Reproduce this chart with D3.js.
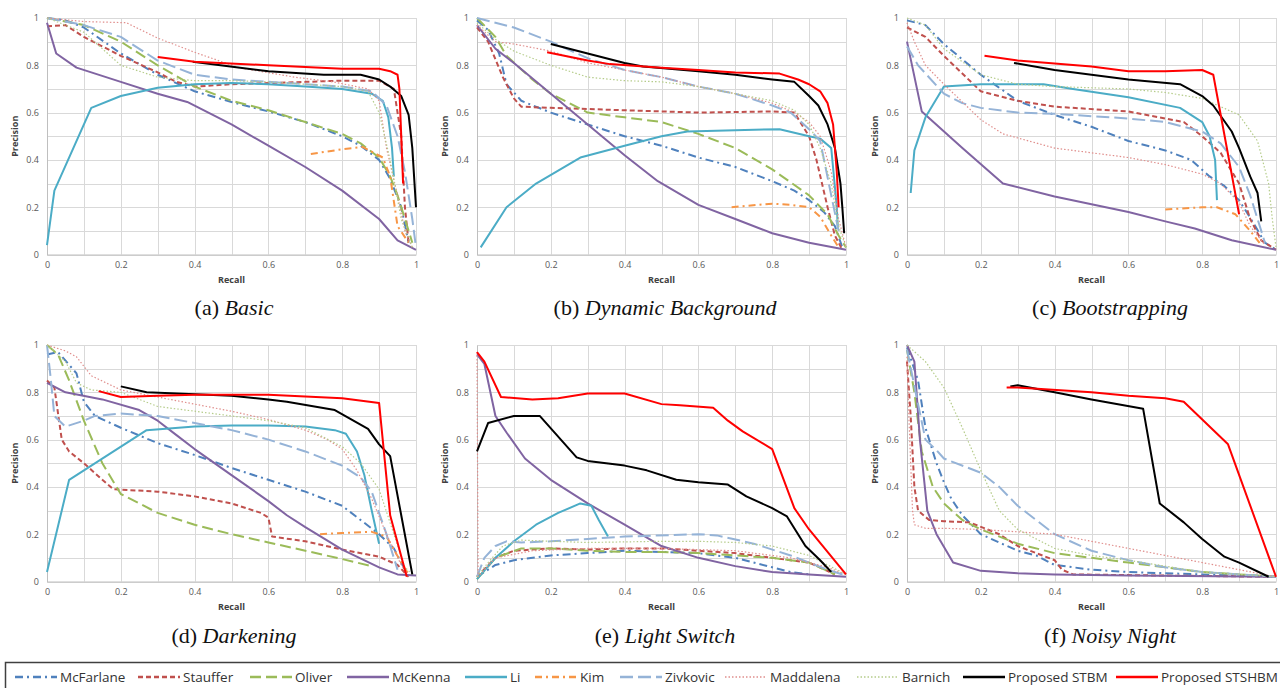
<!DOCTYPE html>
<html>
<head>
<meta charset="utf-8">
<script src="https://cdn.jsdelivr.net/npm/d3@7"></script>
<style>
  body { margin: 0; background: #fff; }
  svg { display: block; }
</style>
</head>
<body>
<svg id="chart" width="1280" height="688"></svg>
<script>
// ---- data ----
var methods = ["McFarlane", "Stauffer", "Oliver", "McKenna", "Li", "Kim", "Zivkovic",
               "Maddalena", "Barnich", "Proposed STBM", "Proposed STSHBM"];
var panelLetters = ["(a)", "(b)", "(c)", "(d)", "(e)", "(f)"];
var panelNames = ["Basic", "Dynamic Background", "Bootstrapping", "Darkening", "Light Switch", "Noisy Night"];
var xTicks = [0, 0.2, 0.4, 0.6, 0.8, 1];
var yTicks = [0, 0.2, 0.4, 0.6, 0.8, 1];

var basic = {
  "McFarlane": [[0,1],[0.05,0.99],[0.1,0.96],[0.2,0.85],[0.3,0.76],[0.4,0.69],[0.5,0.645],[0.6,0.605],[0.7,0.56],[0.8,0.5],[0.85,0.46],[0.9,0.4],[0.93,0.32],[0.96,0.2],[0.98,0.05]],
  "Stauffer": [[0,0.965],[0.05,0.97],[0.1,0.92],[0.2,0.84],[0.3,0.77],[0.35,0.73],[0.4,0.71],[0.5,0.72],[0.6,0.725],[0.7,0.73],[0.8,0.735],[0.9,0.735],[0.94,0.7],[0.96,0.5],[0.97,0.2],[0.98,0.05]],
  "Oliver": [[0,1],[0.1,0.97],[0.2,0.9],[0.3,0.8],[0.4,0.71],[0.5,0.65],[0.6,0.61],[0.7,0.56],[0.8,0.51],[0.85,0.47],[0.9,0.41],[0.93,0.33],[0.95,0.25],[0.97,0.15],[0.99,0.05]],
  "McKenna": [[0,0.98],[0.025,0.85],[0.08,0.79],[0.2,0.73],[0.3,0.68],[0.38,0.645],[0.5,0.55],[0.6,0.46],[0.7,0.37],[0.8,0.27],[0.9,0.15],[0.95,0.06],[1,0.02]],
  "Li": [[0,0.04],[0.02,0.27],[0.12,0.62],[0.2,0.67],[0.3,0.705],[0.4,0.72],[0.5,0.725],[0.6,0.72],[0.7,0.71],[0.8,0.7],[0.88,0.68],[0.91,0.65],[0.925,0.58],[0.935,0.45],[0.94,0.33]],
  "Kim": [[0.715,0.425],[0.8,0.445],[0.855,0.455],[0.91,0.41],[0.93,0.33],[0.95,0.12],[0.98,0.05]],
  "Zivkovic": [[0,1],[0.1,0.97],[0.2,0.92],[0.3,0.82],[0.4,0.76],[0.5,0.74],[0.6,0.73],[0.7,0.72],[0.8,0.71],[0.88,0.69],[0.92,0.63],[0.95,0.5],[0.97,0.35],[0.99,0.15],[1,0.03]],
  "Maddalena": [[0,1],[0.1,0.985],[0.215,0.98],[0.3,0.915],[0.4,0.855],[0.52,0.79],[0.67,0.75],[0.775,0.73],[0.87,0.7],[0.9,0.65],[0.92,0.45],[0.95,0.25],[0.97,0.1],[0.99,0.03]],
  "Barnich": [[0,1],[0.1,0.94],[0.2,0.8],[0.3,0.75],[0.4,0.735],[0.5,0.735],[0.6,0.73],[0.7,0.72],[0.8,0.71],[0.87,0.69],[0.9,0.6],[0.93,0.4],[0.96,0.15],[0.99,0.03]],
  "Proposed STBM": [[0.395,0.815],[0.6,0.775],[0.75,0.76],[0.85,0.76],[0.9,0.74],[0.93,0.71],[0.96,0.67],[0.98,0.59],[0.99,0.45],[1,0.2]],
  "Proposed STSHBM": [[0.3,0.835],[0.4,0.815],[0.6,0.8],[0.8,0.785],[0.9,0.785],[0.93,0.775],[0.95,0.76],[0.955,0.7],[0.96,0.5],[0.965,0.3]]
};

var dynamicBackground = {
  "McFarlane": [[0,0.99],[0.03,0.95],[0.06,0.85],[0.08,0.72],[0.12,0.65],[0.2,0.6],[0.3,0.55],[0.4,0.5],[0.5,0.46],[0.6,0.41],[0.7,0.37],[0.8,0.31],[0.86,0.27],[0.9,0.23],[0.94,0.18],[0.97,0.12],[0.99,0.03]],
  "Stauffer": [[0,0.96],[0.03,0.9],[0.07,0.75],[0.1,0.66],[0.12,0.625],[0.2,0.62],[0.4,0.61],[0.6,0.6],[0.8,0.605],[0.86,0.6],[0.9,0.5],[0.92,0.4],[0.95,0.2],[0.97,0.08],[0.99,0.02]],
  "Oliver": [[0,1],[0.05,0.92],[0.08,0.84],[0.15,0.74],[0.2,0.68],[0.3,0.6],[0.4,0.58],[0.5,0.56],[0.6,0.51],[0.7,0.45],[0.8,0.36],[0.9,0.25],[0.95,0.17],[0.98,0.08],[1,0.03]],
  "McKenna": [[0,0.97],[0.05,0.87],[0.1,0.81],[0.2,0.68],[0.3,0.55],[0.4,0.42],[0.49,0.31],[0.6,0.21],[0.7,0.15],[0.8,0.09],[0.9,0.05],[1,0.02]],
  "Li": [[0.01,0.03],[0.08,0.2],[0.16,0.3],[0.28,0.41],[0.4,0.46],[0.5,0.5],[0.57,0.52],[0.7,0.525],[0.82,0.53],[0.9,0.5],[0.93,0.49],[0.96,0.45],[0.975,0.2],[0.978,0.11]],
  "Kim": [[0.69,0.2],[0.8,0.215],[0.85,0.21],[0.9,0.2],[0.93,0.16],[0.96,0.08],[0.98,0.03]],
  "Zivkovic": [[0,1],[0.1,0.96],[0.2,0.9],[0.3,0.83],[0.4,0.78],[0.5,0.75],[0.6,0.71],[0.7,0.68],[0.8,0.63],[0.85,0.6],[0.9,0.53],[0.93,0.48],[0.96,0.25],[0.98,0.1]],
  "Maddalena": [[0,0.97],[0.05,0.9],[0.1,0.89],[0.2,0.86],[0.3,0.81],[0.4,0.78],[0.5,0.75],[0.6,0.71],[0.7,0.68],[0.8,0.64],[0.86,0.6],[0.9,0.56],[0.93,0.5],[0.96,0.35],[0.98,0.15],[1,0.03]],
  "Barnich": [[0,0.98],[0.05,0.91],[0.1,0.86],[0.2,0.8],[0.3,0.75],[0.4,0.735],[0.5,0.73],[0.6,0.71],[0.7,0.68],[0.8,0.65],[0.86,0.61],[0.9,0.55],[0.93,0.45],[0.96,0.3],[0.98,0.12],[1,0.03]],
  "Proposed STBM": [[0.2,0.89],[0.3,0.85],[0.4,0.81],[0.45,0.795],[0.6,0.775],[0.7,0.76],[0.8,0.74],[0.86,0.73],[0.9,0.67],[0.925,0.63],[0.95,0.55],[0.97,0.45],[0.985,0.3],[0.99,0.2],[0.995,0.09]],
  "Proposed STSHBM": [[0.19,0.855],[0.3,0.82],[0.36,0.805],[0.5,0.79],[0.6,0.78],[0.7,0.77],[0.82,0.765],[0.87,0.74],[0.9,0.72],[0.93,0.69],[0.95,0.64],[0.965,0.55],[0.975,0.35],[0.98,0.2]]
};

var bootstrapping = {
  "McFarlane": [[0,0.99],[0.05,0.97],[0.1,0.89],[0.2,0.76],[0.3,0.65],[0.4,0.59],[0.5,0.54],[0.6,0.48],[0.7,0.44],[0.77,0.4],[0.82,0.33],[0.86,0.29],[0.9,0.23],[0.94,0.13],[0.97,0.05],[1,0.02]],
  "Stauffer": [[0,0.96],[0.05,0.92],[0.1,0.84],[0.2,0.69],[0.3,0.65],[0.4,0.625],[0.6,0.605],[0.75,0.56],[0.8,0.5],[0.85,0.43],[0.9,0.3],[0.93,0.15],[0.96,0.06],[1,0.02]],
  "Oliver": [],
  "McKenna": [[0,0.9],[0.04,0.605],[0.15,0.45],[0.26,0.3],[0.4,0.245],[0.6,0.18],[0.7,0.14],[0.78,0.11],[0.88,0.06],[1,0.02]],
  "Li": [[0.01,0.26],[0.02,0.44],[0.05,0.58],[0.1,0.71],[0.2,0.72],[0.37,0.72],[0.45,0.7],[0.6,0.665],[0.74,0.62],[0.8,0.56],[0.82,0.5],[0.835,0.4],[0.84,0.23]],
  "Kim": [[0.7,0.19],[0.8,0.2],[0.84,0.2],[0.89,0.17],[0.93,0.1],[0.96,0.04]],
  "Zivkovic": [[0,0.88],[0.03,0.8],[0.1,0.68],[0.15,0.64],[0.2,0.62],[0.3,0.6],[0.4,0.595],[0.6,0.575],[0.7,0.56],[0.8,0.52],[0.85,0.47],[0.9,0.37],[0.93,0.25],[0.95,0.15],[0.97,0.05]],
  "Maddalena": [[0,0.98],[0.02,0.9],[0.05,0.8],[0.1,0.72],[0.2,0.57],[0.26,0.51],[0.4,0.45],[0.6,0.41],[0.7,0.38],[0.8,0.34],[0.85,0.3],[0.9,0.22],[0.93,0.12],[0.97,0.04]],
  "Barnich": [[0,1],[0.05,0.97],[0.1,0.87],[0.2,0.76],[0.3,0.72],[0.4,0.71],[0.6,0.7],[0.7,0.685],[0.8,0.66],[0.9,0.59],[0.95,0.48],[0.98,0.3],[0.99,0.15],[1,0.03]],
  "Proposed STBM": [[0.29,0.81],[0.4,0.78],[0.6,0.74],[0.74,0.72],[0.8,0.67],[0.83,0.63],[0.88,0.52],[0.9,0.45],[0.93,0.33],[0.95,0.26],[0.96,0.14]],
  "Proposed STSHBM": [[0.21,0.84],[0.3,0.82],[0.5,0.795],[0.6,0.775],[0.7,0.775],[0.8,0.78],[0.83,0.76],[0.9,0.17]]
};

var darkening = {
  "McFarlane": [[0,0.96],[0.03,0.97],[0.08,0.88],[0.1,0.76],[0.13,0.7],[0.2,0.65],[0.3,0.585],[0.4,0.535],[0.5,0.48],[0.6,0.43],[0.7,0.38],[0.8,0.32],[0.85,0.26],[0.9,0.2],[0.94,0.14],[0.97,0.05]],
  "Stauffer": [[0,0.85],[0.02,0.82],[0.04,0.6],[0.06,0.55],[0.1,0.5],[0.15,0.43],[0.18,0.39],[0.3,0.38],[0.4,0.36],[0.5,0.33],[0.58,0.29],[0.6,0.27],[0.61,0.19],[0.7,0.17],[0.8,0.135],[0.9,0.105],[0.95,0.07],[0.98,0.02]],
  "Oliver": [[0,1],[0.03,0.96],[0.06,0.85],[0.1,0.68],[0.15,0.5],[0.2,0.37],[0.3,0.29],[0.4,0.24],[0.5,0.2],[0.6,0.165],[0.7,0.13],[0.8,0.095],[0.88,0.065]],
  "McKenna": [[0,0.84],[0.05,0.8],[0.15,0.77],[0.25,0.725],[0.3,0.68],[0.35,0.62],[0.4,0.56],[0.5,0.45],[0.6,0.34],[0.65,0.28],[0.7,0.23],[0.8,0.135],[0.9,0.06],[0.95,0.03],[1,0.025]],
  "Li": [[0,0.04],[0.06,0.43],[0.27,0.64],[0.4,0.655],[0.5,0.66],[0.6,0.66],[0.7,0.655],[0.78,0.64],[0.81,0.625],[0.84,0.55],[0.86,0.45],[0.88,0.3],[0.9,0.16]],
  "Kim": [[0.74,0.2],[0.8,0.205],[0.88,0.21],[0.92,0.19],[0.96,0.08],[0.98,0.03]],
  "Zivkovic": [[0,1],[0.01,0.86],[0.02,0.7],[0.05,0.655],[0.1,0.68],[0.13,0.7],[0.2,0.71],[0.3,0.7],[0.4,0.67],[0.5,0.64],[0.6,0.6],[0.7,0.55],[0.8,0.49],[0.85,0.44],[0.88,0.38],[0.92,0.2],[0.95,0.05]],
  "Maddalena": [[0,1],[0.05,0.975],[0.08,0.95],[0.12,0.87],[0.2,0.81],[0.3,0.78],[0.4,0.75],[0.5,0.72],[0.6,0.685],[0.7,0.64],[0.76,0.6],[0.8,0.56],[0.84,0.47],[0.88,0.35],[0.92,0.2],[0.96,0.07],[0.98,0.03]],
  "Barnich": [[0,1],[0.05,0.93],[0.08,0.84],[0.12,0.81],[0.2,0.8],[0.3,0.74],[0.4,0.72],[0.5,0.7],[0.6,0.68],[0.7,0.65],[0.8,0.57],[0.85,0.5],[0.9,0.39],[0.94,0.2],[0.97,0.06],[0.99,0.03]],
  "Proposed STBM": [[0.2,0.825],[0.27,0.8],[0.5,0.785],[0.6,0.77],[0.65,0.76],[0.78,0.725],[0.87,0.645],[0.9,0.58],[0.93,0.53],[0.96,0.28],[0.99,0.03]],
  "Proposed STSHBM": [[0.14,0.805],[0.2,0.78],[0.3,0.785],[0.4,0.79],[0.6,0.79],[0.8,0.775],[0.9,0.755],[0.93,0.28],[0.975,0.02]]
};

var lightSwitch = {
  "McFarlane": [[0,0.02],[0.05,0.07],[0.1,0.09],[0.2,0.11],[0.3,0.12],[0.4,0.13],[0.5,0.125],[0.6,0.12],[0.7,0.1],[0.8,0.06],[0.85,0.04],[0.9,0.03]],
  "Stauffer": [[0,0.02],[0.05,0.1],[0.1,0.13],[0.2,0.14],[0.3,0.135],[0.4,0.14],[0.5,0.14],[0.6,0.13],[0.7,0.12],[0.8,0.1],[0.9,0.08],[0.97,0.03]],
  "Oliver": [[0,0.01],[0.05,0.1],[0.12,0.14],[0.2,0.14],[0.3,0.13],[0.4,0.125],[0.5,0.125],[0.6,0.12],[0.7,0.11],[0.8,0.1],[0.9,0.08],[0.97,0.03]],
  "McKenna": [[0,0.96],[0.02,0.92],[0.05,0.7],[0.08,0.63],[0.13,0.52],[0.2,0.43],[0.3,0.33],[0.4,0.24],[0.5,0.15],[0.6,0.1],[0.7,0.065],[0.8,0.04],[0.9,0.03],[1,0.02]],
  "Li": [[0,0.01],[0.05,0.1],[0.1,0.17],[0.16,0.24],[0.22,0.29],[0.28,0.33],[0.31,0.32],[0.33,0.26],[0.355,0.19]],
  "Kim": [],
  "Zivkovic": [[0,0.02],[0.02,0.1],[0.05,0.15],[0.08,0.17],[0.12,0.165],[0.2,0.17],[0.3,0.18],[0.4,0.19],[0.6,0.2],[0.65,0.195],[0.75,0.16],[0.85,0.11],[0.9,0.08],[0.95,0.05],[1,0.025]],
  "Maddalena": [[0,0.97],[0.003,0.02],[0.05,0.1],[0.15,0.13],[0.3,0.14],[0.5,0.14],[0.7,0.13],[0.85,0.1],[0.95,0.06],[1,0.03]],
  "Barnich": [[0,0.02],[0.03,0.08],[0.07,0.15],[0.12,0.175],[0.2,0.17],[0.3,0.165],[0.5,0.17],[0.6,0.17],[0.7,0.165],[0.8,0.15],[0.9,0.11],[1,0.03]],
  "Proposed STBM": [[0,0.55],[0.03,0.67],[0.1,0.7],[0.17,0.7],[0.27,0.525],[0.3,0.51],[0.35,0.5],[0.4,0.49],[0.46,0.47],[0.54,0.43],[0.6,0.42],[0.68,0.41],[0.73,0.36],[0.8,0.31],[0.84,0.275],[0.89,0.15],[0.93,0.09],[0.96,0.04]],
  "Proposed STSHBM": [[0,0.97],[0.02,0.93],[0.065,0.78],[0.15,0.77],[0.22,0.775],[0.3,0.795],[0.4,0.795],[0.5,0.75],[0.55,0.745],[0.64,0.735],[0.68,0.68],[0.72,0.635],[0.8,0.56],[0.86,0.31],[0.9,0.22],[1,0.03]]
};

var noisyNight = {
  "McFarlane": [[0,0.99],[0.03,0.85],[0.05,0.65],[0.08,0.5],[0.1,0.42],[0.12,0.35],[0.15,0.28],[0.2,0.2],[0.3,0.13],[0.35,0.11],[0.4,0.07],[0.5,0.05],[0.6,0.04],[0.8,0.03],[1,0.02]],
  "Stauffer": [[0,0.93],[0.01,0.7],[0.02,0.4],[0.03,0.3],[0.06,0.26],[0.1,0.255],[0.17,0.25],[0.25,0.2],[0.3,0.15],[0.35,0.12],[0.4,0.09],[0.42,0.05],[0.45,0.03],[0.7,0.025],[1,0.02]],
  "Oliver": [[0,0.98],[0.02,0.8],[0.04,0.55],[0.07,0.4],[0.1,0.33],[0.15,0.26],[0.2,0.22],[0.3,0.16],[0.4,0.12],[0.5,0.1],[0.6,0.08],[0.7,0.06],[0.8,0.04],[0.9,0.03],[1,0.02]],
  "McKenna": [[0,1],[0.02,0.93],[0.035,0.6],[0.055,0.3],[0.08,0.2],[0.125,0.08],[0.2,0.045],[0.3,0.035],[0.4,0.03],[0.6,0.025],[1,0.02]],
  "Li": [],
  "Kim": [],
  "Zivkovic": [[0,0.98],[0.03,0.75],[0.05,0.6],[0.08,0.555],[0.1,0.52],[0.2,0.46],[0.25,0.4],[0.3,0.32],[0.4,0.2],[0.5,0.13],[0.6,0.09],[0.7,0.06],[0.8,0.04],[0.9,0.03],[1,0.02]],
  "Maddalena": [[0,0.95],[0.005,0.7],[0.01,0.5],[0.015,0.3],[0.02,0.24],[0.05,0.225],[0.1,0.225],[0.2,0.22],[0.4,0.2],[0.5,0.17],[0.6,0.14],[0.7,0.11],[0.8,0.08],[0.9,0.05],[1,0.02]],
  "Barnich": [[0,1],[0.05,0.93],[0.1,0.82],[0.15,0.65],[0.2,0.47],[0.25,0.3],[0.3,0.22],[0.4,0.14],[0.5,0.11],[0.6,0.09],[0.7,0.065],[0.8,0.04],[0.9,0.03],[1,0.02]],
  "Proposed STBM": [[0.28,0.825],[0.3,0.83],[0.4,0.8],[0.5,0.77],[0.64,0.73],[0.685,0.33],[0.75,0.25],[0.8,0.18],[0.86,0.105],[0.9,0.08],[0.98,0.02]],
  "Proposed STSHBM": [[0.27,0.82],[0.3,0.82],[0.5,0.8],[0.6,0.785],[0.7,0.775],[0.75,0.76],[0.87,0.58],[1,0.02]]
};

var panelData = [basic, dynamicBackground, bootstrapping, darkening, lightSwitch, noisyNight];

// ---- styles (Excel-like) ----
var styles = {
  "McFarlane":       { color: "#4f81bd", dash: "8,4,2,4", width: 2 },
  "Stauffer":        { color: "#c0504d", dash: "5,3",     width: 2 },
  "Oliver":          { color: "#9bbb59", dash: "11,5",    width: 2 },
  "McKenna":         { color: "#8064a2", dash: null,      width: 2 },
  "Li":              { color: "#4bacc6", dash: null,      width: 2 },
  "Kim":             { color: "#f79646", dash: "7,4,2,4", width: 2 },
  "Zivkovic":        { color: "#95b3d7", dash: "13,5",    width: 2 },
  "Maddalena":       { color: "#e08e8c", dash: "1.5,2",   width: 1.2 },
  "Barnich":         { color: "#b5cc8a", dash: "1.5,2",   width: 1.2 },
  "Proposed STBM":   { color: "#000000", dash: null,      width: 2 },
  "Proposed STSHBM": { color: "#ff0000", dash: null,      width: 2 }
};

var svg = d3.select("#chart");
var colLeft = [47, 477, 907], plotW = 369;
var rowTop = [18, 345], plotH = 236.5;
var captionX = [234, 665, 1110], captionY = [315, 643];

panelData.forEach(function(curves, i) {
  var col = i % 3, row = Math.floor(i / 3);
  var x = d3.scaleLinear().domain([0, 1]).range([colLeft[col], colLeft[col] + plotW]);
  var y = d3.scaleLinear().domain([0, 1]).range([rowTop[row] + plotH, rowTop[row]]);
  var g = svg.append("g");

  // grid
  var grid = d3.range(0, 11).map(function(k) { return k / 10; });
  g.selectAll("line.vg").data(grid).enter().append("line")
    .attr("x1", function(d) { return Math.round(x(d)) + 0.5; })
    .attr("x2", function(d) { return Math.round(x(d)) + 0.5; })
    .attr("y1", y(0)).attr("y2", y(1))
    .style("stroke", "#d9d9d9").style("stroke-width", 1);
  g.selectAll("line.hg").data(grid).enter().append("line")
    .attr("y1", function(d) { return Math.round(y(d)) + 0.5; })
    .attr("y2", function(d) { return Math.round(y(d)) + 0.5; })
    .attr("x1", x(0)).attr("x2", x(1))
    .style("stroke", "#d9d9d9").style("stroke-width", 1);

  // axes
  var xAxis = d3.axisBottom(x).tickValues(xTicks).tickSize(0).tickPadding(7)
    .tickFormat(function(d) { return String(d); });
  var yAxis = d3.axisLeft(y).tickValues(yTicks).tickSize(0).tickPadding(8)
    .tickFormat(function(d) { return String(d); });
  var xg = g.append("g").attr("transform", "translate(0," + y(0) + ")").call(xAxis);
  var yg = g.append("g").attr("transform", "translate(" + x(0) + ",0)").call(yAxis);
  [xg, yg].forEach(function(a) {
    a.select(".domain").style("stroke", "#bfbfbf");
    a.selectAll("text").style("font-family", "'Open Sans', sans-serif")
      .style("font-size", "9px").style("fill", "#595959");
  });

  g.append("text")
    .attr("x", (x(0) + x(1)) / 2).attr("y", y(0) + 28)
    .attr("text-anchor", "middle")
    .style("font-family", "'Open Sans', sans-serif").style("font-weight", "bold")
    .style("font-size", "9px").style("fill", "#404040")
    .text("Recall");
  g.append("text")
    .attr("transform", "translate(" + (x(0) - 29) + "," + ((y(0) + y(1)) / 2) + ") rotate(-90)")
    .attr("text-anchor", "middle")
    .style("font-family", "'Open Sans', sans-serif").style("font-weight", "bold")
    .style("font-size", "9px").style("fill", "#404040")
    .text("Precision");

  // curves
  var line = d3.line()
    .x(function(d) { return x(d[0]); })
    .y(function(d) { return y(d[1]); });
  methods.forEach(function(m) {
    var pts = curves[m];
    if (!pts || pts.length < 2) return;
    var s = styles[m];
    g.append("path")
      .attr("d", line(pts))
      .style("fill", "none")
      .style("stroke", s.color)
      .style("stroke-width", s.width)
      .style("stroke-dasharray", s.dash)
      .style("stroke-linejoin", "round");
  });

  // caption
  var cap = svg.append("text")
    .attr("x", captionX[col]).attr("y", captionY[row])
    .attr("text-anchor", "middle")
    .style("font-family", "'Liberation Serif', 'Times New Roman', serif")
    .style("font-size", "22px").style("fill", "#111");
  cap.append("tspan").text(panelLetters[i] + " ");
  cap.append("tspan").style("font-style", "italic").text(panelNames[i]);
});

// ---- legend ----
var legendX = [15, 138, 250, 347, 465, 535, 620, 725, 857, 963, 1116];
var lg = svg.append("g");
lg.append("rect")
  .attr("x", 5.5).attr("y", 662.5).attr("width", 1300).attr("height", 40)
  .style("fill", "#fff").style("stroke", "#404040").style("stroke-width", 1.5);
methods.forEach(function(m, k) {
  var s = styles[m], lx = legendX[k], ly = 677;
  lg.append("line")
    .attr("x1", lx).attr("x2", lx + 42).attr("y1", ly).attr("y2", ly)
    .style("stroke", s.color).style("stroke-width", s.width + 0.5)
    .style("stroke-dasharray", s.dash);
  lg.append("text")
    .attr("x", lx + 45).attr("y", ly + 5)
    .style("font-family", "'Open Sans', sans-serif").style("font-size", "13.5px")
    .style("fill", "#333")
    .text(m);
});
</script>
</body>
</html>
